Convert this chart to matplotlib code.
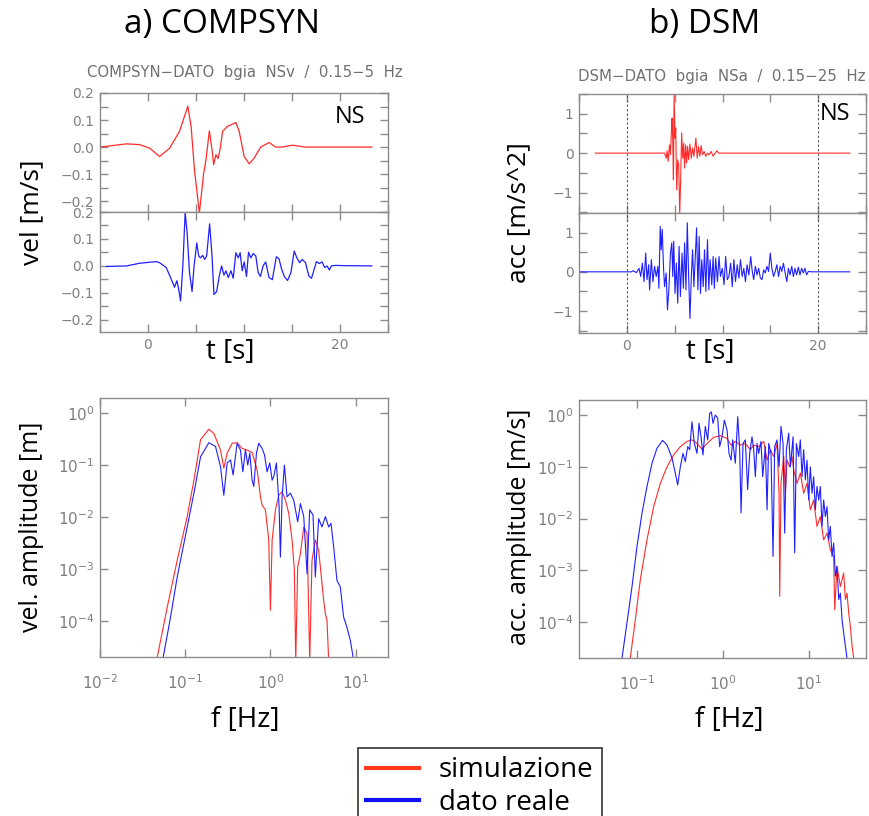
"""Recreate COMPSYN / DSM seismogram + spectra comparison figure."""

import numpy as np
import matplotlib
matplotlib.use("Agg")
import matplotlib.pyplot as plt
from matplotlib.ticker import MultipleLocator, FixedLocator, FuncFormatter, NullLocator
from matplotlib.lines import Line2D

# ---- data ---------------------------------------------------------------
# a) COMPSYN velocity, simulation (red)
comp_sim_t = [-5.0, -2.25, -0.86, 0.17, 1.21, 2.25, 3.28, 4.15, 4.49, 4.84, 5.35, 5.80,
              6.04, 6.39, 6.67, 6.84, 7.08, 7.29, 7.50, 7.77, 8.29, 8.81, 9.15, 9.50,
              10.02, 10.54, 11.05, 11.74, 12.61, 13.30, 13.99, 15.03, 16.41, 23.32]
comp_sim_v = [0.0, 0.012, 0.009, -0.004, -0.035, -0.004, 0.058, 0.151, 0.077, -0.084, -0.244, -0.096,
              -0.047, 0.060, -0.010, -0.065, -0.028, -0.043, -0.010, 0.058, 0.077, 0.085, 0.091, 0.058,
              -0.035, -0.062, -0.041, 0.0, 0.017, 0.0, 0.0, 0.007, 0.0, 0.0]

# a) COMPSYN velocity, recorded data (blue)
comp_dat_t = [-4.32, -2.25, -0.86, 0.86, 1.21, 1.90, 2.42, 2.76, 3.01, 3.18, 3.39, 3.63, 3.87,
              4.08, 4.32, 4.59, 4.80, 5.08, 5.28, 5.46, 5.70, 5.91, 6.11, 6.42, 6.67, 6.87,
              7.15, 7.43, 7.67, 7.91, 8.12, 8.36, 8.64, 8.88, 9.15, 9.40, 9.60, 9.81, 10.02,
              10.26, 10.47, 10.71, 10.95, 11.23, 11.47, 11.71, 11.99, 12.26, 12.61, 12.95,
              13.37, 13.64, 13.92, 14.20, 14.54, 14.89, 15.23, 15.51, 15.79, 16.06, 16.41,
              16.75, 17.03, 17.31, 17.55, 17.86, 18.13, 18.41, 18.65, 18.89, 19.10, 19.52,
              20.55, 23.32]
comp_dat_v = [-0.002, 0.0, 0.010, 0.016, 0.012, -0.006, -0.049, -0.079, -0.055, -0.083, -0.130, 0.0, 0.198,
              0.122, -0.024, -0.095, 0.0, 0.085, 0.037, 0.030, 0.039, 0.024, 0.037, 0.156, 0.037, -0.106,
              -0.095, -0.037, 0.0, -0.034, -0.018, -0.043, -0.018, -0.046, 0.049, 0.030, 0.049, -0.018, 0.015,
              -0.039, 0.051, 0.030, 0.046, 0.037, -0.024, -0.039, 0.0, 0.015, -0.043, -0.051,
              0.034, 0.027, -0.012, -0.039, -0.054, -0.024, 0.055, 0.030, 0.012, 0.024, 0.012,
              -0.037, -0.046, -0.012, 0.016, 0.009, 0.015, -0.006, 0.0, -0.015, 0.0, 0.002,
              0.001, 0.0]

# b) DSM acceleration, simulation (red)
dsm_sim_t = [-3.3, 3.94, 4.11, 4.21, 4.32, 4.46, 4.56, 4.66, 4.73, 4.80, 4.87, 4.94, 5.04, 5.11,
             5.21, 5.32, 5.42, 5.53, 5.63, 5.73, 5.84, 5.94, 6.04, 6.15, 6.25, 6.35, 6.46,
             6.60, 6.74, 6.87, 7.01, 7.22, 7.36, 7.49, 7.63, 7.77, 7.91, 8.08, 8.25, 8.43,
             8.60, 8.81, 9.02, 9.22, 9.43, 9.57, 23.3]
dsm_sim_a = [0.0, 0.0, -0.13, 0.06, -0.21, 0.21, -0.04, 0.55, 0.89, 0.34, -0.68, 1.48, 0.38, 0.64,
             -0.93, -0.17, -0.30, -1.53, -0.64, 0.51, -0.13, 0.25, -0.38, 0.21, -0.25, 0.17, -0.17,
             0.23, -0.13, 0.13, -0.08, 0.38, -0.13, 0.17, -0.08, 0.19, -0.04, 0.04, -0.08, 0.0,
             -0.04, 0.04, -0.08, 0.0, 0.06, 0.0, 0.0]

# b) DSM acceleration, recorded data (blue)
dsm_dat_t = [-5.0, 0.48, 0.66, 1.00, 1.28, 1.45, 1.62, 1.80, 1.97, 2.11, 2.28, 2.38, 2.56, 2.73,
             2.90, 3.07, 3.25, 3.35, 3.49, 3.59, 3.70, 3.83, 3.94, 4.11, 4.25, 4.39, 4.56,
             4.70, 4.80, 4.90, 5.04, 5.18, 5.32, 5.46, 5.60, 5.77, 5.91, 6.04, 6.18, 6.32,
             6.46, 6.60, 6.74, 6.87, 7.01, 7.15, 7.29, 7.43, 7.56, 7.70, 7.84, 7.98, 8.12,
             8.26, 8.43, 8.57, 8.70, 8.88, 9.02, 9.15, 9.29, 9.47, 9.64, 9.78, 9.98, 10.16,
             10.33, 10.50, 10.67, 10.85, 11.02, 11.19, 11.36, 11.54, 11.71, 11.88, 12.06,
             12.23, 12.40, 12.57, 12.75, 12.95, 13.09, 13.26, 13.44, 13.61, 13.78, 13.96,
             14.13, 14.30, 14.47, 14.65, 14.82, 14.99, 15.16, 15.34, 15.51, 15.68, 15.86,
             16.03, 16.20, 16.37, 16.55, 16.72, 16.89, 17.06, 17.24, 17.41, 17.58, 17.75,
             17.93, 18.10, 18.27, 18.45, 18.62, 18.79, 18.97, 19.31, 23.3]
dsm_dat_a = [0.0, 0.0, 0.03, -0.02, 0.09, -0.12, 0.22, -0.25, 0.48, -0.20, 0.18, -0.46, 0.31, -0.25,
             0.14, -0.12, 0.14, -0.42, 1.16, 0.56, 1.08, 0.14, -0.38, -0.03, -0.97, -0.46, 0.48,
             0.74, -0.12, 0.78, -0.55, 0.22, -0.80, 0.65, -0.63, 0.48, -0.42, 0.74, -0.46, 1.25,
             -0.12, -1.19, -0.12, 0.56, -0.38, 0.35, 1.12, -0.46, 0.90, -0.55, 0.31, -0.38, 0.56,
             -0.50, 0.82, -0.46, 0.31, -0.33, 0.39, -0.42, 0.35, -0.25, 0.39, -0.12, 0.09, -0.33,
             0.39, -0.20, -0.12, 0.22, -0.38, 0.31, -0.25, 0.18, -0.16, 0.31, -0.12,
             0.09, -0.25, 0.18, -0.08, 0.39, 0.05, -0.20, 0.14, -0.08, 0.09, -0.16,
             -0.20, 0.05, -0.03, 0.14, 0.01, 0.48, 0.09, -0.12, 0.01, 0.18, -0.12,
             0.14, 0.01, 0.22, -0.03, -0.25, 0.09, -0.08, 0.14, -0.12, 0.09, -0.08,
             0.12, -0.08, 0.09, -0.03, 0.09, -0.08, 0.01, 0.0, 0.0]

# spectra, stored as log10(f) and log10(amplitude)
comp_sim_lf = [-1.328, -1.211, -1.094, -0.977, -0.898, -0.820, -0.723, -0.664, -0.586, -0.547,
               -0.508, -0.449, -0.391, -0.332, -0.273, -0.215, -0.156, -0.117, -0.098, -0.059,
               -0.020, 0.0, 0.020, 0.059, 0.098, 0.137, 0.176, 0.215, 0.254, 0.281, 0.297,
               0.320, 0.352, 0.391, 0.430, 0.461, 0.488, 0.527, 0.566, 0.586, 0.625, 0.645,
               0.664, 0.684]
comp_sim_la = [-4.69, -3.73, -2.83, -1.99, -1.29, -0.51, -0.31, -0.39, -0.71, -1.06,
               -0.77, -0.58, -0.57, -0.68, -0.71, -0.76, -1.09, -1.61, -1.77, -1.86,
               -2.44, -3.79, -2.44, -1.86, -1.58, -1.51, -1.67, -1.93, -2.44, -3.02, -4.76,
               -2.96, -2.70, -2.19, -2.32, -4.76, -2.83, -2.44, -2.64, -2.96, -3.60, -3.86,
               -3.99, -4.76]

comp_dat_lf = [-1.258, -1.172, -1.094, -0.977, -0.898, -0.820, -0.723, -0.645, -0.586, -0.547,
               -0.508, -0.469, -0.438, -0.391, -0.352, -0.324, -0.293, -0.266, -0.242, -0.215,
               -0.195, -0.164, -0.137, -0.098, -0.070, -0.039, -0.008, 0.020, 0.039, 0.070,
               0.102, 0.117, 0.137, 0.164, 0.195, 0.234, 0.273, 0.320, 0.352, 0.391, 0.430,
               0.461, 0.500, 0.527, 0.566, 0.605, 0.645, 0.684, 0.711, 0.742, 0.781, 0.820,
               0.859, 0.898, 0.938, 0.977]
comp_dat_la = [-4.69, -3.92, -3.15, -2.19, -1.54, -0.84, -0.57, -0.64, -1.03, -1.58,
               -0.96, -0.90, -1.19, -0.58, -0.71, -1.13, -0.71, -1.00, -0.77, -1.29,
               -1.41, -0.77, -0.58, -0.68, -0.80, -1.13, -0.96, -1.29, -1.22, -0.96,
               -1.80, -2.77, -1.61, -1.00, -1.61, -1.54, -1.67, -2.09, -1.74, -1.99, -3.09,
               -1.86, -1.96, -3.15, -2.03, -2.19, -1.99, -2.19, -2.12, -2.57, -3.22, -3.34,
               -3.92, -4.12, -4.37, -4.76]

dsm_sim_lf = [-1.084, -1.025, -0.967, -0.889, -0.811, -0.733, -0.655, -0.577, -0.499, -0.421,
              -0.363, -0.304, -0.246, -0.187, -0.109, -0.031, 0.047, 0.094, 0.144, 0.203,
              0.261, 0.320, 0.359, 0.417, 0.476, 0.515, 0.554, 0.593, 0.632, 0.655, 0.663,
              0.678, 0.710, 0.729, 0.749, 0.780, 0.807, 0.827, 0.866, 0.905, 0.943, 0.982,
              1.021, 1.060, 1.099, 1.138, 1.177, 1.216, 1.255, 1.294, 1.306, 1.333, 1.372,
              1.411, 1.431, 1.450, 1.470, 1.489, 1.509, 1.528]
dsm_sim_la = [-4.69, -3.95, -3.18, -2.41, -1.77, -1.32, -1.00, -0.77, -0.61, -0.51,
              -0.48, -0.55, -0.66, -0.55, -0.43, -0.40, -0.45, -0.58, -0.51, -0.58,
              -0.55, -0.67, -0.58, -0.61, -0.51, -0.87, -0.67, -0.80, -0.55, -1.51, -3.50,
              -1.32, -0.80, -1.51, -0.87, -1.00, -0.80, -1.06, -1.32, -1.12, -1.51, -1.32,
              -1.83, -1.64, -2.15, -1.96, -2.41, -2.28, -2.60, -2.73, -3.76, -2.92, -3.31,
              -3.05, -3.56, -3.44, -3.82, -4.08, -4.46, -4.69]

dsm_dat_lf = [-1.181, -1.123, -1.064, -1.006, -0.947, -0.889, -0.830, -0.772, -0.706, -0.655,
              -0.596, -0.558, -0.530, -0.499, -0.468, -0.441, -0.413, -0.390, -0.363, -0.335,
              -0.304, -0.281, -0.257, -0.234, -0.207, -0.179, -0.156, -0.136, -0.117, -0.090,
              -0.062, -0.039, -0.012, 0.016, 0.047, 0.070, 0.094, 0.113, 0.144, 0.172, 0.195,
              0.211, 0.234, 0.261, 0.288, 0.312, 0.339, 0.359, 0.378, 0.398, 0.417, 0.444,
              0.464, 0.495, 0.515, 0.534, 0.561, 0.585, 0.604, 0.632, 0.655, 0.678, 0.702,
              0.721, 0.741, 0.768, 0.788, 0.819, 0.838, 0.858, 0.885, 0.904, 0.924, 0.943,
              0.963, 0.982, 1.002, 1.021, 1.041, 1.060, 1.080, 1.099, 1.119, 1.138, 1.158,
              1.177, 1.197, 1.216, 1.236, 1.255, 1.275, 1.294, 1.314, 1.333, 1.353, 1.372,
              1.392, 1.411, 1.431, 1.450]
dsm_dat_la = [-4.69, -4.01, -3.31, -2.54, -1.89, -1.38, -0.93, -0.64, -0.49, -0.58,
              -0.83, -1.12, -1.35, -1.00, -0.74, -0.90, -0.61, -0.67, -0.13, -0.55,
              -0.74, -0.16, -0.42, -0.77, -0.22, -0.48, 0.03, 0.06, -0.16, 0.00,
              -0.06, -0.61, -0.42, -0.10, -0.29, -0.74, -0.87, -0.48, -0.93, -0.03, -0.67,
              -1.89, -0.55, -0.48, -1.44, -0.74, -0.42, -0.67, -1.19, -0.55, -0.74, -0.51,
              -1.19, -0.61, -1.83, -0.55, -0.74, -2.73, -0.61, -0.48, -1.00, -0.22, -0.55,
              -2.28, -0.67, -0.35, -1.00, -0.42, -2.66, -0.55, -0.80, -0.48, -1.19, -0.67,
              -1.25, -0.87, -1.64, -1.00, -1.51, -1.19, -1.83, -1.38, -1.64, -1.38, -2.15,
              -1.64, -1.96, -1.77, -2.41, -2.15, -2.73, -2.47, -3.11, -2.92, -3.56, -3.44,
              -3.95, -4.21, -4.46, -4.69]

# ---- styling -------------------------------------------------------------
W, H = 869, 816
FRAME = "#8c8c8c"
TICK_TXT = "#808080"
RED = "#ff2b2b"
BLUE = "#1f1fff"
BIG = ["Open Sans", "DejaVu Sans"]

plt.rcParams["font.family"] = ["DejaVu Sans"]
plt.rcParams["mathtext.fontset"] = "dejavusans"

fig = plt.figure(figsize=(W / 100, H / 100), dpi=100)


def px_axes(x0, y0, x1, y1):
    return fig.add_axes([x0 / W, 1 - y1 / H, (x1 - x0) / W, (y1 - y0) / H])


def style(ax, size=10):
    for s in ax.spines.values():
        s.set_color(FRAME)
        s.set_linewidth(1.0)
    ax.tick_params(which="both", direction="in", top=True, right=True, length=6,
                   width=1.0, color=FRAME, labelcolor=TICK_TXT, labelsize=size, pad=4)


minus = FuncFormatter(lambda v, p: f"{v:.1f}".replace("-", "\u2212"))
minus_int = FuncFormatter(lambda v, p: f"{v:.0f}".replace("-", "\u2212"))

# ---- top row: seismograms ------------------------------------------------
axA1 = px_axes(100, 93, 388, 212)
axA2 = px_axes(100, 212, 388, 332)
axB1 = px_axes(579, 94, 866, 213)
axB2 = px_axes(579, 213, 866, 333)

axA1.plot(comp_sim_t, comp_sim_v, color=RED, lw=0.9)
axA2.plot(comp_dat_t, comp_dat_v, color=BLUE, lw=0.9)
axB1.plot(dsm_sim_t, dsm_sim_a, color=RED, lw=0.8)
axB2.plot(dsm_dat_t, dsm_dat_a, color=BLUE, lw=0.8)

for ax, ylim in [(axA1, (-0.24, 0.2)), (axA2, (-0.245, 0.2))]:
    ax.set_ylim(*ylim)
    ax.yaxis.set_major_locator(FixedLocator([-0.2, -0.1, 0.0, 0.1, 0.2]))
    ax.yaxis.set_minor_locator(MultipleLocator(0.05))
    ax.yaxis.set_major_formatter(minus)

for ax, ylim in [(axB1, (-1.52, 1.5)), (axB2, (-1.56, 1.5))]:
    ax.set_ylim(*ylim)
    ax.yaxis.set_major_locator(FixedLocator([-1, 0, 1]))
    ax.yaxis.set_minor_locator(MultipleLocator(0.5))
    ax.yaxis.set_major_formatter(minus_int)
    ax.axvline(0, color="#555555", ls=(0, (2, 2)), lw=0.8)
    ax.axvline(20, color="#555555", ls=(0, (2, 2)), lw=0.8)

for ax in (axA1, axA2, axB1, axB2):
    ax.set_xlim(-5, 25)
    ax.xaxis.set_major_locator(FixedLocator([0, 20]))
    ax.xaxis.set_minor_locator(MultipleLocator(5))
    style(ax)
for ax in (axA1, axB1):
    ax.tick_params(labelbottom=False)

axA1.text(0.92, 0.8, "NS", transform=axA1.transAxes, ha="right", va="center",
          fontsize=17, family=BIG)
axB1.text(0.945, 0.83, "NS", transform=axB1.transAxes, ha="right", va="center",
          fontsize=17, family=BIG)

# ---- bottom row: amplitude spectra --------------------------------------
axC = px_axes(100, 398, 388, 657)
axD = px_axes(579, 400, 866, 658)

axC.plot(10 ** np.array(comp_sim_lf), 10 ** np.array(comp_sim_la), color=RED, lw=0.8)
axC.plot(10 ** np.array(comp_dat_lf), 10 ** np.array(comp_dat_la), color=BLUE, lw=0.8)
axD.plot(10 ** np.array(dsm_sim_lf), 10 ** np.array(dsm_sim_la), color=RED, lw=0.8)
axD.plot(10 ** np.array(dsm_dat_lf), 10 ** np.array(dsm_dat_la), color=BLUE, lw=0.8)

for ax, xlim in [(axC, (0.00999, 10 ** 1.38)), (axD, (10 ** -1.684, 10 ** 1.672))]:
    ax.set_xscale("log")
    ax.set_yscale("log")
    ax.set_xlim(*xlim)
    ax.set_ylim(10 ** -4.69, 10 ** 0.29)
    ax.xaxis.set_major_locator(FixedLocator([1e-2, 1e-1, 1, 10]))
    ax.yaxis.set_major_locator(FixedLocator([1e-4, 1e-3, 1e-2, 1e-1, 1]))
    ax.xaxis.set_minor_locator(NullLocator())
    ax.yaxis.set_minor_locator(NullLocator())
    style(ax, size=11)
    ax.tick_params(axis="x", pad=12)

# ---- labels --------------------------------------------------------------
fig.text(222 / W, 1 - 25 / H, "a) COMPSYN", ha="center", va="center", fontsize=24, family=BIG)
fig.text(705 / W, 1 - 25 / H, "b) DSM", ha="center", va="center", fontsize=24, family=BIG)
fig.text(87 / W, 1 - 73 / H, "COMPSYN\u2212DATO  bgia  NSv  /  0.15\u22125  Hz",
         ha="left", va="center", fontsize=10.7, color="#707070")
fig.text(578 / W, 1 - 77 / H, "DSM\u2212DATO  bgia  NSa  /  0.15\u221225  Hz",
         ha="left", va="center", fontsize=10.8, color="#707070")

fig.text(32 / W, 1 - 212 / H, "vel [m/s]", rotation=90, ha="center", va="center",
         fontsize=19, family=BIG)
fig.text(520 / W, 1 - 213 / H, "acc [m/s^2]", rotation=90, ha="center", va="center",
         fontsize=19, family=BIG)
fig.text(230 / W, 1 - 352 / H, "t [s]", ha="center", va="center", fontsize=20, family=BIG)
fig.text(710 / W, 1 - 352 / H, "t [s]", ha="center", va="center", fontsize=20, family=BIG)

fig.text(32 / W, 1 - 527 / H, "vel. amplitude [m]", rotation=90, ha="center", va="center",
         fontsize=18, family=BIG)
fig.text(520 / W, 1 - 527 / H, "acc. amplitude [m/s]", rotation=90, ha="center", va="center",
         fontsize=18, family=BIG)
fig.text(245 / W, 1 - 720 / H, "f [Hz]", ha="center", va="center", fontsize=20, family=BIG)
fig.text(729 / W, 1 - 720 / H, "f [Hz]", ha="center", va="center", fontsize=20, family=BIG)

# ---- legend --------------------------------------------------------------
handles = [Line2D([], [], color="#ff3b1f", lw=3), Line2D([], [], color="#1010ff", lw=3)]
leg = fig.legend(handles, ["simulazione", "dato reale"], loc="upper left",
                 bbox_to_anchor=(358 / W, 1 - 748 / H), borderaxespad=0, frameon=True,
                 fancybox=False, edgecolor="black", handlelength=1.9,
                 handletextpad=0.7, labelspacing=0.15, borderpad=0.3,
                 prop={"family": BIG, "size": 20})
leg.get_frame().set_linewidth(1.2)

fig.savefig("out.png", dpi=100)
